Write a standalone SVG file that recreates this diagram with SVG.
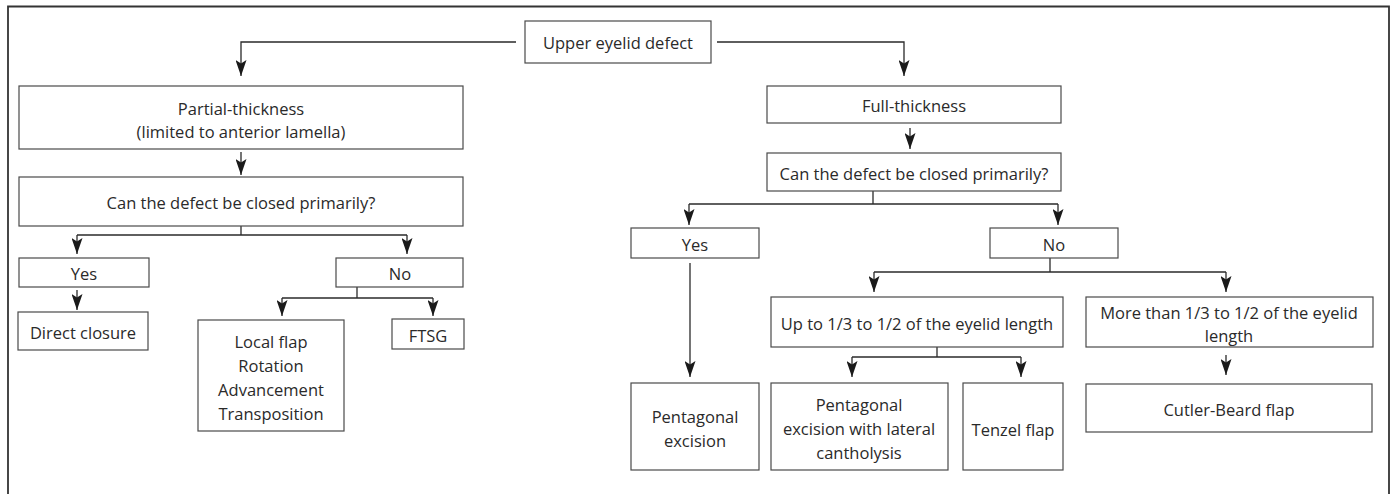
<svg xmlns="http://www.w3.org/2000/svg" width="1395" height="494" viewBox="0 0 1395 494">
<style>
.box{fill:#fff;stroke:#4a4a4a;stroke-width:1.2}
.t{font-family:"Open Sans","Liberation Sans",sans-serif;font-size:16.5px;fill:#2a2a2a;text-anchor:middle;dominant-baseline:central}
.c{fill:none;stroke:#2a2a2a;stroke-width:1.3}
</style>
<defs>
<marker id="ah" viewBox="0 0 16 11" refX="16" refY="5.5" markerWidth="16" markerHeight="11" markerUnits="userSpaceOnUse" orient="auto">
<path d="M0,0 L16,5.5 L0,11 L3.5,5.5 z" fill="#1a1a1a"/>
</marker>
</defs>
<rect width="1395" height="494" fill="#fff"/>
<path d="M8,500 L8,6.5 L1389,6.5 L1389,500" fill="none" stroke="#333" stroke-width="1.8"/>

<g id="connectors">
<path class="c" d="M516,42 H241 V76" marker-end="url(#ah)"/>
<path class="c" d="M717,42 H904 V76" marker-end="url(#ah)"/>
<path class="c" d="M241,152 V175" marker-end="url(#ah)"/>
<path class="c" d="M241,226 V235"/>
<path class="c" d="M77,235 H407"/>
<path class="c" d="M77,235 V254" marker-end="url(#ah)"/>
<path class="c" d="M407,235 V254" marker-end="url(#ah)"/>
<path class="c" d="M77,290 V310" marker-end="url(#ah)"/>
<path class="c" d="M357,287 V298"/>
<path class="c" d="M282,298 H433"/>
<path class="c" d="M282,298 V316" marker-end="url(#ah)"/>
<path class="c" d="M433,298 V316" marker-end="url(#ah)"/>
<path class="c" d="M910,128 V149" marker-end="url(#ah)"/>
<path class="c" d="M873,191 V204"/>
<path class="c" d="M689,204 H1058"/>
<path class="c" d="M689,204 V225" marker-end="url(#ah)"/>
<path class="c" d="M1058,204 V225" marker-end="url(#ah)"/>
<path class="c" d="M690,263 V377" marker-end="url(#ah)"/>
<path class="c" d="M1050,258 V272"/>
<path class="c" d="M874,272 H1226"/>
<path class="c" d="M874,272 V292" marker-end="url(#ah)"/>
<path class="c" d="M1226,272 V292" marker-end="url(#ah)"/>
<path class="c" d="M1226,355 V375" marker-end="url(#ah)"/>
<path class="c" d="M937,347 V357"/>
<path class="c" d="M852,357 H1021"/>
<path class="c" d="M852,357 V377" marker-end="url(#ah)"/>
<path class="c" d="M1021,357 V377" marker-end="url(#ah)"/>
</g>

<g id="n-top"><rect class="box" x="525" y="21" width="186" height="42"/><text class="t" x="618" y="42">Upper eyelid defect</text></g>
<g id="n-partial"><rect class="box" x="19" y="86" width="444" height="63"/><text class="t" x="241" y="108">Partial-thickness</text><text class="t" x="241" y="131">(limited to anterior lamella)</text></g>
<g id="n-q1"><rect class="box" x="19" y="177" width="444" height="49"/><text class="t" x="241" y="202">Can the defect be closed primarily?</text></g>
<g id="n-yes1"><rect class="box" x="19" y="258" width="130" height="29"/><text class="t" x="84" y="273">Yes</text></g>
<g id="n-no1"><rect class="box" x="336" y="258" width="127" height="29"/><text class="t" x="400" y="273">No</text></g>
<g id="n-direct"><rect class="box" x="18" y="312" width="130" height="38"/><text class="t" x="83" y="332">Direct closure</text></g>
<g id="n-local"><rect class="box" x="198" y="320" width="146" height="111"/><text class="t" x="271" y="341">Local flap</text><text class="t" x="271" y="365">Rotation</text><text class="t" x="271" y="389">Advancement</text><text class="t" x="271" y="413">Transposition</text></g>
<g id="n-ftsg"><rect class="box" x="392" y="319" width="72" height="30"/><text class="t" x="428" y="335">FTSG</text></g>

<g id="n-full"><rect class="box" x="767" y="86" width="294" height="37"/><text class="t" x="914" y="105">Full-thickness</text></g>
<g id="n-q2"><rect class="box" x="767" y="153" width="294" height="38"/><text class="t" x="914" y="173">Can the defect be closed primarily?</text></g>
<g id="n-yes2"><rect class="box" x="631" y="228" width="128" height="30"/><text class="t" x="695" y="244">Yes</text></g>
<g id="n-no2"><rect class="box" x="990" y="228" width="128" height="30"/><text class="t" x="1054" y="244">No</text></g>
<g id="n-upto"><rect class="box" x="771" y="297" width="292" height="50"/><text class="t" x="917" y="323">Up to 1/3 to 1/2 of the eyelid length</text></g>
<g id="n-more"><rect class="box" x="1086" y="297" width="287" height="50"/><text class="t" x="1229" y="312">More than 1/3 to 1/2 of the eyelid</text><text class="t" x="1229" y="335">length</text></g>
<g id="n-pent"><rect class="box" x="631" y="383" width="128" height="87"/><text class="t" x="695" y="416">Pentagonal</text><text class="t" x="695" y="440">excision</text></g>
<g id="n-pentlat"><rect class="box" x="771" y="383" width="177" height="87"/><text class="t" x="859" y="404">Pentagonal</text><text class="t" x="859" y="428">excision with lateral</text><text class="t" x="859" y="452">cantholysis</text></g>
<g id="n-tenzel"><rect class="box" x="963" y="383" width="100" height="87"/><text class="t" x="1013" y="429">Tenzel flap</text></g>
<g id="n-cutler"><rect class="box" x="1086" y="384" width="286" height="48"/><text class="t" x="1229" y="409">Cutler-Beard flap</text></g>
</svg>
